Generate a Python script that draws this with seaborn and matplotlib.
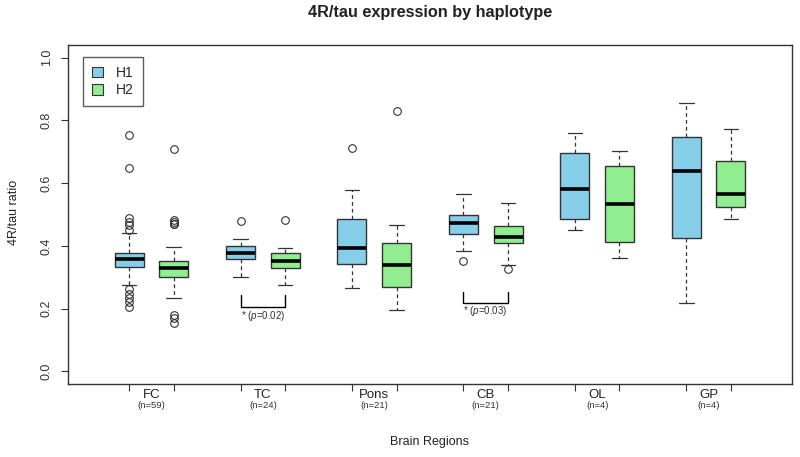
import numpy as np
import seaborn as sns
import matplotlib.pyplot as plt
from matplotlib.patches import Patch

# Brain regions and sample sizes
regions = ["FC", "TC", "Pons", "CB", "OL", "GP"]
n_samples = [59, 24, 21, 21, 4, 4]

# H1 box statistics
h1_whislo = [0.275, 0.301, 0.266, 0.382, 0.449, 0.217]
h1_q1 = [0.332, 0.358, 0.342, 0.439, 0.487, 0.425]
h1_med = [0.358, 0.377, 0.393, 0.472, 0.582, 0.638]
h1_q3 = [0.378, 0.399, 0.486, 0.498, 0.696, 0.747]
h1_whishi = [0.442, 0.423, 0.579, 0.565, 0.758, 0.855]
h1_out = [
    [0.753, 0.649, 0.489, 0.477, 0.465, 0.452, 0.261, 0.248, 0.235, 0.221, 0.204],
    [0.478],
    [0.712],
    [0.351],
    [],
    [],
]

# H2 box statistics
h2_whislo = [0.235, 0.274, 0.196, 0.340, 0.361, 0.487]
h2_q1 = [0.302, 0.328, 0.270, 0.409, 0.413, 0.524]
h2_med = [0.329, 0.351, 0.340, 0.429, 0.532, 0.565]
h2_q3 = [0.351, 0.378, 0.408, 0.462, 0.653, 0.671]
h2_whishi = [0.396, 0.393, 0.466, 0.538, 0.701, 0.773]
h2_out = [
    [0.710, 0.481, 0.476, 0.471, 0.468, 0.181, 0.169, 0.155],
    [0.483],
    [0.831],
    [0.327],
    [],
    [],
]

# Significance brackets
sig_regions = [1, 3]
sig_pvals = ["0.02", "0.03"]
sig_top = [0.242, 0.254]
sig_bot = [0.205, 0.219]
sig_text_y = [0.176, 0.192]

colors = {"H1": "#87CEEB", "H2": "#90EE90"}
edge = "#333333"

sns.set_theme(style="white")
plt.rcParams["font.family"] = ["Liberation Sans", "DejaVu Sans"]
plt.rcParams["mathtext.fontset"] = "custom"
plt.rcParams["mathtext.rm"] = "Liberation Sans"
plt.rcParams["mathtext.it"] = "Liberation Sans:italic"


def make_stats(lo, q1, med, q3, hi, out):
    return [
        dict(whislo=lo[i], q1=q1[i], med=med[i], q3=q3[i], whishi=hi[i],
             fliers=np.array(out[i]))
        for i in range(len(lo))
    ]


stats_h1 = make_stats(h1_whislo, h1_q1, h1_med, h1_q3, h1_whishi, h1_out)
stats_h2 = make_stats(h2_whislo, h2_q1, h2_med, h2_q3, h2_whishi, h2_out)

pos_h1 = np.arange(len(regions)) * 2.5 + 1
pos_h2 = pos_h1 + 1
centers = pos_h1 + 0.5

fig, ax = plt.subplots(figsize=(8, 4.57), dpi=100)
fig.subplots_adjust(left=0.085, right=0.99, top=0.9015, bottom=0.16)

box_kw = dict(
    widths=0.65,
    capwidths=0.33,
    patch_artist=True,
    manage_ticks=False,
    boxprops=dict(edgecolor=edge, linewidth=1.0),
    medianprops=dict(color="black", linewidth=2.6, solid_capstyle="butt"),
    whiskerprops=dict(color=edge, linewidth=0.9, linestyle=(0, (3, 2.5))),
    capprops=dict(color=edge, linewidth=0.9),
    flierprops=dict(marker="o", markerfacecolor="none", markeredgecolor=edge,
                    markersize=5.5, markeredgewidth=0.8),
)

for stats, pos, key in [(stats_h1, pos_h1, "H1"), (stats_h2, pos_h2, "H2")]:
    bp = ax.bxp(stats, positions=pos, **box_kw)
    for b in bp["boxes"]:
        b.set_facecolor(colors[key])

# significance brackets
for k, r in enumerate(sig_regions):
    x0, x1 = pos_h1[r], pos_h2[r]
    ax.plot([x0, x0, x1, x1], [sig_top[k], sig_bot[k], sig_bot[k], sig_top[k]],
            color="black", linewidth=1.0, solid_joinstyle="round")
    ax.text((x0 + x1) / 2, sig_text_y[k], r"* ($p$=" + sig_pvals[k] + ")",
            ha="center", va="center", fontsize=7, color="#333333")

ax.set_xlim(-0.37, 15.87)
ax.set_ylim(-0.04, 1.04)

# x axis: tick marks at every box, region labels between pairs
ax.set_xticks(np.sort(np.concatenate([pos_h1, pos_h2])))
ax.set_xticklabels([])
for i, c in enumerate(centers):
    ax.text(c, -0.076, regions[i], ha="center", va="center", fontsize=9.5,
            color="#222222", clip_on=False)
    ax.text(c, -0.110, f"(n={n_samples[i]})", ha="center", va="center",
            fontsize=6.8, color="#333333", clip_on=False)

yt = [0.0, 0.2, 0.4, 0.6, 0.8, 1.0]
ax.set_yticks(yt)
ax.set_yticklabels([f"{v:.1f}" for v in yt], rotation=90, va="center",
                   fontsize=9, color="#333333")
ax.tick_params(axis="both", direction="out", length=5, width=0.8, color=edge,
               left=True, bottom=True)
ax.tick_params(axis="y", pad=6)

for s in ax.spines.values():
    s.set_edgecolor(edge)
    s.set_linewidth(1.0)

handles = [Patch(facecolor=colors[k], edgecolor=edge, linewidth=0.8, label=k)
           for k in ["H1", "H2"]]
leg = ax.legend(handles=handles, loc="upper left", bbox_to_anchor=(0.021, 0.965),
                borderaxespad=0, fancybox=False, edgecolor=edge, fontsize=10,
                handlelength=0.8, handleheight=0.8, handletextpad=0.9,
                borderpad=0.65, labelspacing=0.25)
leg.get_frame().set_linewidth(1.0)

fig.text(430 / 800, 1 - 13 / 457, "4R/tau expression by haplotype",
         ha="center", va="center", fontsize=11.7, fontweight="bold",
         color="#222222")
fig.text(430 / 800, 1 - 442 / 457, "Brain Regions", ha="center", va="center",
         fontsize=9, color="#222222")
fig.text(14 / 800, 1 - 212 / 457, "4R/tau ratio", ha="center", va="center",
         rotation=90, fontsize=9, color="#222222")

fig.savefig("out.png", dpi=100)
